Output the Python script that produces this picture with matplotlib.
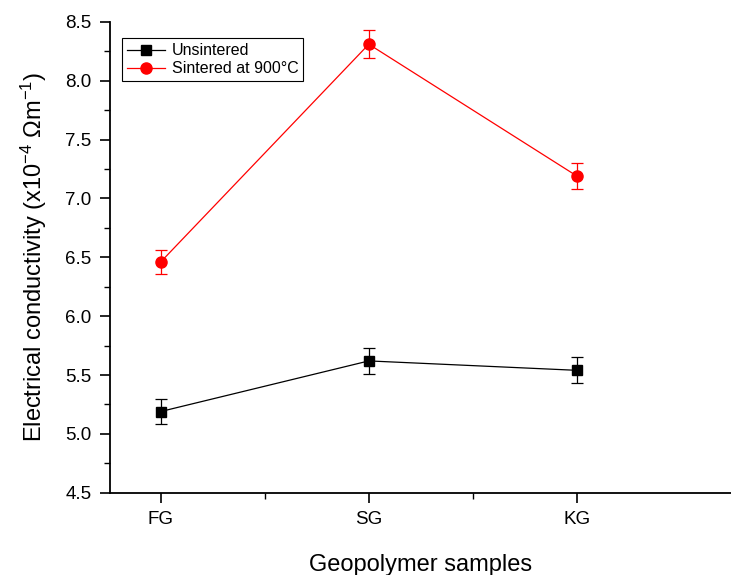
import numpy as np
import matplotlib.pyplot as plt

plt.rcParams['font.family'] = ['Liberation Sans', 'DejaVu Sans']
plt.rcParams['mathtext.fontset'] = 'custom'
plt.rcParams['mathtext.rm'] = 'Liberation Sans'
plt.rcParams['mathtext.it'] = 'Liberation Sans'

samples = ['FG', 'SG', 'KG']
unsintered = [5.19, 5.62, 5.54]
unsintered_err = [0.11, 0.11, 0.11]
sintered = [6.46, 8.31, 7.19]
sintered_err = [0.10, 0.12, 0.11]

fig = plt.figure(figsize=(7.31, 5.75), dpi=100)
ax = fig.add_axes([0.150, 0.143, 0.85, 0.819])

x = np.arange(len(samples))
ax.errorbar(x, unsintered, yerr=unsintered_err, color='black', fmt='none',
            elinewidth=0.9, capsize=4, capthick=0.9)
ax.errorbar(x, sintered, yerr=sintered_err, color='red', fmt='none',
            elinewidth=0.9, capsize=4, capthick=0.9)
ax.plot(x, unsintered, color='black', marker='s', markersize=7, linewidth=0.9,
        label='Unsintered')
ax.plot(x, sintered, color='red', marker='o', markersize=8, linewidth=0.9,
        label='Sintered at 900°C')

ax.set_xlim(-0.245, 2.74)
ax.set_ylim(4.5, 8.5)
ax.set_xticks(x)
ax.set_xticklabels(samples)
ax.set_xticks([0.5, 1.5], minor=True)
ax.set_yticks(np.arange(4.5, 8.51, 0.5))
ax.set_yticks(np.arange(4.75, 8.5, 0.5), minor=True)

ax.spines['top'].set_visible(False)
ax.spines['right'].set_visible(False)
ax.spines['left'].set_linewidth(1.3)
ax.spines['bottom'].set_linewidth(1.3)
ax.tick_params(which='major', direction='out', length=7, width=1.2, labelsize=13.5, pad=6)
ax.tick_params(which='minor', direction='out', length=4, width=1.0)

ax.set_xlabel('Geopolymer samples', fontsize=17, labelpad=19)
ax.set_ylabel('Electrical conductivity (x10$^{-4}$ Ωm$^{-1}$)', fontsize=17, labelpad=12)

leg = ax.legend(loc='upper left', bbox_to_anchor=(0.02, 0.965), fontsize=11.5,
                fancybox=False, edgecolor='black', framealpha=1, handlelength=2.4,
                handletextpad=0.4, borderpad=0.3, labelspacing=0.2, borderaxespad=0)
leg.get_frame().set_linewidth(0.8)

fig.savefig('out.png', dpi=100)
